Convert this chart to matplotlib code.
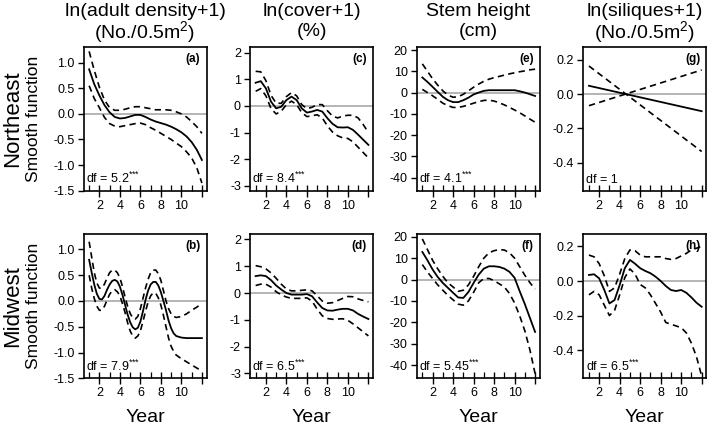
import matplotlib
matplotlib.use("Agg")
import matplotlib.pyplot as plt
from matplotlib.ticker import FixedLocator, FormatStrFormatter

plt.rcParams['font.family'] = ['Liberation Sans', 'DejaVu Sans']
plt.rcParams['mathtext.fontset'] = 'custom'
plt.rcParams['mathtext.rm'] = 'Liberation Sans'
plt.rcParams['mathtext.it'] = 'Liberation Sans:italic'
plt.rcParams['mathtext.bf'] = 'Liberation Sans:bold'

# ---------------- data ----------------
year_h = [1, 1.5, 2, 2.5, 3, 3.5, 4, 4.5, 5, 5.5, 6, 6.5, 7, 7.5, 8, 8.5, 9, 9.5, 10, 10.5, 11, 11.5, 12]
year_q = [1, 1.25, 1.5, 1.75, 2, 2.25, 2.5, 2.75, 3, 3.25, 3.5, 3.75, 4, 4.25, 4.5, 4.75, 5, 5.25, 5.5, 5.75,
          6, 6.25, 6.5, 6.75, 7, 7.25, 7.5, 7.75, 8, 8.25, 8.5, 8.75, 9, 9.25, 9.5, 10, 10.5, 11, 11.5, 12]
year_lin = [1, 12]

# (a) Northeast adult density
a_fit = [0.87, 0.58, 0.36, 0.17, 0.03, -0.06, -0.09, -0.08, -0.05, -0.02, -0.02, -0.06, -0.11, -0.15, -0.18,
         -0.21, -0.25, -0.30, -0.36, -0.44, -0.55, -0.70, -0.90]
a_up = [1.22, 0.85, 0.52, 0.27, 0.12, 0.07, 0.07, 0.09, 0.12, 0.14, 0.14, 0.12, 0.10, 0.08, 0.08, 0.08, 0.07,
        0.04, 0.00, -0.06, -0.15, -0.25, -0.38]
a_lo = [0.55, 0.30, 0.12, -0.07, -0.19, -0.24, -0.25, -0.23, -0.21, -0.19, -0.18, -0.21, -0.27, -0.32, -0.38,
        -0.44, -0.50, -0.57, -0.64, -0.74, -0.86, -1.05, -1.35]

# (b) Midwest adult density
b_fit = [0.80, 0.55, 0.32, 0.14, 0.04, 0.03, 0.10, 0.22, 0.32, 0.39, 0.41, 0.38, 0.28, 0.12, -0.07, -0.26,
         -0.41, -0.51, -0.55, -0.52, -0.40, -0.20, 0.02, 0.20, 0.32, 0.37, 0.37, 0.30, 0.17, 0.00, -0.18, -0.38,
         -0.53, -0.63, -0.68, -0.71, -0.72, -0.72, -0.72, -0.72]
b_up = [1.15, 0.85, 0.55, 0.35, 0.25, 0.25, 0.33, 0.45, 0.55, 0.60, 0.60, 0.55, 0.45, 0.28, 0.08, -0.10,
        -0.24, -0.33, -0.35, -0.30, -0.15, 0.05, 0.25, 0.42, 0.55, 0.60, 0.60, 0.53, 0.40, 0.20, 0.00, -0.15,
        -0.25, -0.30, -0.32, -0.30, -0.25, -0.18, -0.12, -0.05]
b_lo = [0.50, 0.25, 0.05, -0.10, -0.18, -0.18, -0.10, 0.02, 0.13, 0.20, 0.22, 0.18, 0.10, -0.05, -0.22, -0.42,
        -0.58, -0.68, -0.72, -0.68, -0.58, -0.40, -0.20, -0.02, 0.10, 0.16, 0.15, 0.06, -0.08, -0.28, -0.50,
        -0.72, -0.88, -0.98, -1.05, -1.12, -1.18, -1.24, -1.30, -1.36]

# (c) Northeast cover
c_fit = [0.87, 0.93, 0.66, 0.16, -0.09, -0.03, 0.22, 0.35, 0.22, -0.09, -0.25, -0.21, -0.15, -0.21, -0.46,
         -0.67, -0.80, -0.81, -0.80, -0.90, -1.08, -1.27, -1.46]
c_up = [1.30, 1.28, 0.95, 0.40, 0.10, 0.10, 0.35, 0.50, 0.38, 0.05, -0.10, -0.05, 0.05, 0.05, -0.18, -0.38,
        -0.45, -0.38, -0.35, -0.35, -0.45, -0.70, -1.00]
c_lo = [0.55, 0.65, 0.38, -0.10, -0.30, -0.20, 0.05, 0.18, 0.05, -0.25, -0.40, -0.37, -0.33, -0.45, -0.75,
        -0.98, -1.12, -1.20, -1.22, -1.35, -1.55, -1.75, -1.95]

# (d) Midwest cover
d_fit = [0.63, 0.66, 0.63, 0.48, 0.28, 0.13, 0.00, -0.06, -0.06, -0.06, -0.04, -0.12, -0.35, -0.56, -0.65,
         -0.66, -0.62, -0.59, -0.59, -0.65, -0.78, -0.88, -0.97]
d_up = [1.02, 0.98, 0.90, 0.75, 0.55, 0.33, 0.15, 0.08, 0.08, 0.10, 0.12, 0.08, -0.10, -0.30, -0.38, -0.36,
        -0.28, -0.20, -0.13, -0.14, -0.22, -0.28, -0.33]
d_lo = [0.28, 0.33, 0.33, 0.22, 0.05, -0.07, -0.15, -0.20, -0.20, -0.20, -0.18, -0.30, -0.60, -0.85, -0.95,
        -0.98, -0.97, -0.96, -1.02, -1.15, -1.30, -1.45, -1.60]

# (e) Northeast stem height
e_fit = [7.1, 5.0, 2.7, 0.3, -2.0, -3.6, -4.5, -4.5, -3.6, -2.4, -0.9, 0.0, 0.8, 1.1, 1.1, 1.1, 1.1, 1.1,
         1.1, 0.6, 0.0, -0.8, -1.6]
e_up = [13.5, 10.0, 6.5, 3.5, 0.8, -1.2, -2.2, -2.0, -0.8, 0.8, 2.5, 4.0, 5.3, 6.3, 7.0, 7.6, 8.2, 8.8, 9.3,
        9.8, 10.2, 10.7, 11.0]
e_lo = [1.5, 0.0, -1.5, -3.2, -5.0, -6.2, -7.0, -7.0, -6.5, -5.8, -5.0, -4.3, -3.7, -3.6, -4.0, -4.8, -5.8,
        -7.0, -8.2, -9.5, -11.0, -12.5, -14.0]

# (f) Midwest stem height
f_fit = [12.9, 9.0, 4.7, 1.2, -1.6, -3.9, -6.2, -8.4, -8.6, -5.8, -1.6, 2.3, 5.1, 6.2, 6.2, 5.9, 5.1, 3.6,
         0.8, -5.5, -11.5, -18.0, -24.5]
f_up = [19.0, 14.0, 9.0, 5.0, 1.5, -1.5, -3.5, -5.5, -5.0, -2.5, 1.5, 6.0, 10.0, 12.5, 13.5, 14.0, 13.8, 12.5,
        10.0, 6.0, 2.0, -1.5, -4.5]
f_lo = [7.0, 3.5, 0.5, -2.5, -5.0, -7.5, -9.5, -11.5, -12.0, -10.0, -6.0, -1.5, 0.5, 0.5, -0.5, -2.0, -3.5,
        -6.5, -11.0, -17.0, -24.0, -33.0, -44.0]

# (g) Northeast siliques (linear, df = 1)
g_fit = [0.048, -0.100]
g_up = [-0.068, 0.140]
g_lo = [0.163, -0.335]

# (h) Midwest siliques
h_fit = [0.035, 0.039, 0.015, -0.052, -0.130, -0.110, -0.023, 0.074, 0.122, 0.100, 0.074, 0.058, 0.045, 0.025,
         0.000, -0.029, -0.052, -0.058, -0.052, -0.068, -0.095, -0.126, -0.149]
h_up = [0.150, 0.140, 0.100, 0.030, -0.060, -0.040, 0.040, 0.130, 0.180, 0.175, 0.150, 0.140, 0.140, 0.140,
        0.140, 0.130, 0.125, 0.130, 0.145, 0.160, 0.180, 0.190, 0.200]
h_lo = [-0.080, -0.060, -0.080, -0.140, -0.200, -0.170, -0.080, 0.020, 0.070, 0.040, -0.020, -0.040, -0.080,
        -0.130, -0.180, -0.240, -0.250, -0.260, -0.270, -0.300, -0.360, -0.440, -0.550]

col_titles1 = ["ln(adult density+1)", "ln(cover+1)", "Stem height", "ln(siliques+1)"]
col_titles2 = ["(No./0.5m$^2$)", "(%)", "(cm)", "(No./0.5m$^2$)"]
row_titles = ["Northeast", "Midwest"]
x_ticks = [2, 4, 6, 8, 10, 12]
x_ticklabels = ["2", "4", "6", "8", "10", ""]

STARS = "$^{{*}{*}{*}}$"
panels = [
    # row 0
    [dict(x=year_h, fit=a_fit, up=a_up, lo=a_lo, lab="(a)", df="df = 5.2" + STARS,
          ylim=(-1.5, 1.3), yt=[-1.5, -1.0, -0.5, 0.0, 0.5, 1.0], fmt="%.1f"),
     dict(x=year_h, fit=c_fit, up=c_up, lo=c_lo, lab="(c)", df="df = 8.4" + STARS,
          ylim=(-3.18, 2.2), yt=[-3, -2, -1, 0, 1, 2], fmt="%d"),
     dict(x=year_h, fit=e_fit, up=e_up, lo=e_lo, lab="(e)", df="df = 4.1" + STARS,
          ylim=(-46.2, 21.3), yt=[-40, -30, -20, -10, 0, 10, 20], fmt="%d"),
     dict(x=year_lin, fit=g_fit, up=g_up, lo=g_lo, lab="(g)", df="df = 1",
          ylim=(-0.563, 0.272), yt=[-0.4, -0.2, 0.0, 0.2], fmt="%.1f")],
    # row 1
    [dict(x=year_q, fit=b_fit, up=b_up, lo=b_lo, lab="(b)", df="df = 7.9" + STARS,
          ylim=(-1.5, 1.3), yt=[-1.5, -1.0, -0.5, 0.0, 0.5, 1.0], fmt="%.1f"),
     dict(x=year_h, fit=d_fit, up=d_up, lo=d_lo, lab="(d)", df="df = 6.5" + STARS,
          ylim=(-3.18, 2.2), yt=[-3, -2, -1, 0, 1, 2], fmt="%d"),
     dict(x=year_h, fit=f_fit, up=f_up, lo=f_lo, lab="(f)", df="df = 5.45" + STARS,
          ylim=(-46.2, 21.3), yt=[-40, -30, -20, -10, 0, 10, 20], fmt="%d"),
     dict(x=year_h, fit=h_fit, up=h_up, lo=h_lo, lab="(h)", df="df = 6.5" + STARS,
          ylim=(-0.563, 0.272), yt=[-0.4, -0.2, 0.0, 0.2], fmt="%.1f")],
]

W, H = 709, 429
fig = plt.figure(figsize=(W / 100, H / 100), dpi=100)

lefts = [83.5, 250.0, 416.7, 583.3]
pw = 123.0
rows_px = [(47.3, 190.7), (234.0, 378.3)]

for r, (ytop, ybot) in enumerate(rows_px):
    for c in range(4):
        p = panels[r][c]
        ax = fig.add_axes([lefts[c] / W, 1 - ybot / H, pw / W, (ybot - ytop) / H])
        ax.axhline(0, color="#b4b4b4", lw=1.4, zorder=1)
        ax.plot(p["x"], p["fit"], color="black", lw=1.3, zorder=3)
        ax.plot(p["x"], p["up"], color="black", lw=1.2, ls=(0, (3.8, 2.6)), zorder=3)
        ax.plot(p["x"], p["lo"], color="black", lw=1.2, ls=(0, (3.8, 2.6)), zorder=3)
        ax.set_xlim(0.45, 12.45)
        ax.set_ylim(*p["ylim"])
        ax.xaxis.set_major_locator(FixedLocator(x_ticks))
        ax.set_xticklabels(x_ticklabels)
        ax.xaxis.set_minor_locator(FixedLocator([1, 3, 5, 7, 9, 11]))
        ax.yaxis.set_major_locator(FixedLocator(p["yt"]))
        ax.yaxis.set_major_formatter(FormatStrFormatter(p["fmt"]))
        ax.tick_params(axis="x", which="major", direction="inout", length=9, width=1.0,
                       labelsize=9, pad=2)
        ax.tick_params(axis="x", which="minor", direction="in", length=4, width=0.9)
        ax.tick_params(axis="y", which="major", direction="out", length=4.5, width=1.0,
                       labelsize=9, pad=2)
        for s in ax.spines.values():
            s.set_linewidth(1.2)
        ax.text(0.95, 0.96, p["lab"], transform=ax.transAxes, ha="right", va="top",
                fontsize=8.5, fontweight="bold")
        ax.text(0.02, 0.03, p["df"], transform=ax.transAxes, ha="left", va="bottom",
                fontsize=9)
        xc = (lefts[c] + pw / 2) / W
        if r == 0:
            fig.text(xc, 1 - 11 / H, col_titles1[c], ha="center", va="center", fontsize=14)
            fig.text(xc, 1 - 32 / H, col_titles2[c], ha="center", va="center", fontsize=14)
        if r == 1:
            fig.text(xc, 1 - 417 / H, "Year", ha="center", va="center", fontsize=14)
    yc = (ytop + ybot) / 2
    fig.text(13 / W, 1 - yc / H, row_titles[r], rotation=90, ha="center", va="center", fontsize=16)
    fig.text(33 / W, 1 - yc / H, "Smooth function", rotation=90, ha="center", va="center",
             fontsize=12.5)

fig.savefig("out.png", dpi=100)
